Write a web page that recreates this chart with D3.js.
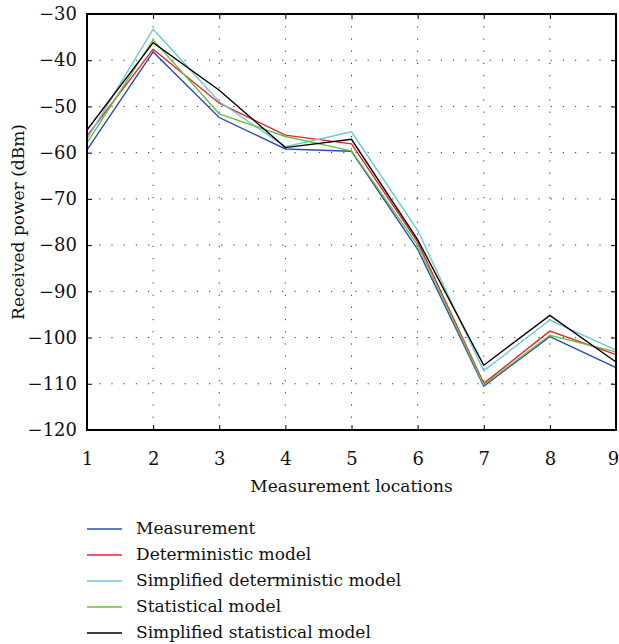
<!DOCTYPE html>
<html>
<head>
<meta charset="utf-8">
<script src="https://cdn.jsdelivr.net/npm/d3@7"></script>
<style>
  html, body { margin: 0; padding: 0; background: #fff; }
</style>
</head>
<body>
<div id="chart"></div>
<script>
// ---- data ----
const locations = [1, 2, 3, 4, 5, 6, 7, 8, 9];
const seriesNames = [
  "Measurement",
  "Deterministic model",
  "Simplified deterministic model",
  "Statistical model",
  "Simplified statistical model"
];
const seriesColors = ["#2b4db3", "#e5252a", "#6ec8d8", "#6cbf45", "#000000"];

const measurement   = [-59.4, -38.2, -52.4, -59.2, -59.7, -80.9, -110.5, -99.8, -106.5];
const deterministic = [-56.4, -37.6, -49.3, -56.2, -58.1, -79.3, -109.9, -98.6, -103.7];
const simpDeterm    = [-57.0, -33.3, -49.0, -58.7, -55.5, -76.8, -107.2, -96.2, -102.7];
const statistical   = [-57.9, -35.6, -51.6, -56.5, -59.6, -80.0, -110.2, -99.5, -103.1];
const simpStat      = [-55.1, -36.2, -46.5, -58.9, -57.1, -78.8, -106.0, -95.2, -105.3];

const yTicks = [-30, -40, -50, -60, -70, -80, -90, -100, -110, -120];

const allSeries = [measurement, deterministic, simpDeterm, statistical, simpStat];

const FONT = "'DejaVu Serif', serif";

// ---- draw ----
function draw() {
  const W = 619, H = 644;
  const m = { left: 87, right: 3, top: 14, bottom: 214 };
  const pw = W - m.left - m.right, ph = H - m.top - m.bottom;

  const svg = d3.select('#chart').append('svg')
    .attr('width', W).attr('height', H)
    .style('font-family', FONT);

  const x = d3.scaleLinear().domain([1, 9]).range([m.left, m.left + pw]);
  const y = d3.scaleLinear().domain([-120, -30]).range([m.top + ph, m.top]);

  // dotted grid
  const grid = svg.append('g')
    .attr('stroke', '#333').attr('stroke-width', 1)
    .attr('stroke-dasharray', '1.2,11');
  grid.selectAll('.gx').data(locations.slice(1, -1)).join('line')
    .attr('x1', d => x(d)).attr('x2', d => x(d))
    .attr('y1', y(-120)).attr('y2', y(-30));
  grid.selectAll('.gy').data(yTicks.slice(1, -1)).join('line')
    .attr('x1', x(1)).attr('x2', x(9))
    .attr('y1', d => y(d)).attr('y2', d => y(d));

  // series lines
  const line = d3.line().x((d, i) => x(locations[i])).y(d => y(d));
  svg.append('g').attr('fill', 'none').attr('stroke-width', 1.4)
    .selectAll('path').data(allSeries).join('path')
    .attr('stroke', (d, i) => seriesColors[i])
    .attr('d', line);

  // axes (ticks point inward on all four sides)
  const fmt = d => d < 0 ? '\u2212' + Math.abs(d) : d;
  const axL = svg.append('g').attr('transform', `translate(${m.left},0)`)
    .call(d3.axisLeft(y).tickValues(yTicks).tickSize(-5).tickPadding(10).tickFormat(fmt));
  const axR = svg.append('g').attr('transform', `translate(${m.left + pw},0)`)
    .call(d3.axisRight(y).tickValues(yTicks).tickSize(-5).tickFormat(''));
  const axB = svg.append('g').attr('transform', `translate(0,${m.top + ph})`)
    .call(d3.axisBottom(x).tickValues(locations).tickSize(-5).tickPadding(22).tickFormat(d3.format('d')));
  const axT = svg.append('g').attr('transform', `translate(0,${m.top})`)
    .call(d3.axisTop(x).tickValues(locations).tickSize(-5).tickFormat(''));

  [axL, axR, axB, axT].forEach(g => {
    g.attr('font-family', null).attr('font-size', 18);
    g.select('.domain').remove();
    g.selectAll('.tick line').attr('stroke', '#000').attr('stroke-width', 1);
    g.selectAll('text').attr('fill', '#111');
  });
  // keep the last x label inside the page
  axB.selectAll('.tick text').filter(d => d === 9).attr('dx', -3);

  // frame
  svg.append('rect')
    .attr('x', m.left).attr('y', m.top).attr('width', pw).attr('height', ph)
    .attr('fill', 'none').attr('stroke', '#000').attr('stroke-width', 2);

  // axis titles
  svg.append('text')
    .attr('x', m.left + pw / 2).attr('y', 492)
    .attr('text-anchor', 'middle').attr('font-size', 17).attr('fill', '#111')
    .text('Measurement locations');

  svg.append('text')
    .attr('transform', `translate(24,${m.top + ph / 2}) rotate(-90)`)
    .attr('text-anchor', 'middle').attr('font-size', 17).attr('fill', '#111')
    .text('Received power (dBm)');

  // legend
  const leg = svg.append('g').attr('transform', 'translate(87,529)');
  const item = leg.selectAll('g').data(seriesNames).join('g')
    .attr('transform', (d, i) => `translate(0,${i * 26})`);
  item.append('line')
    .attr('x1', 0).attr('x2', 35).attr('y1', 0).attr('y2', 0)
    .attr('stroke', (d, i) => seriesColors[i]).attr('stroke-width', 1.4);
  item.append('text')
    .attr('x', 49).attr('y', 0).attr('dy', '0.32em')
    .attr('font-size', 17).attr('fill', '#111')
    .text(d => d);
}

draw();
</script>
</body>
</html>
